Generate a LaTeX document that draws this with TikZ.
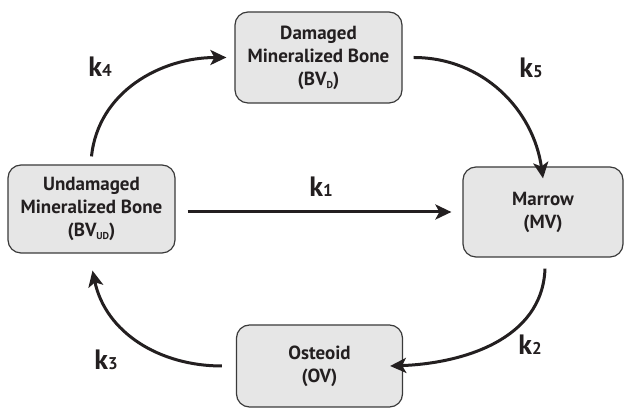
\documentclass[tikz,border=0pt]{standalone}
\usepackage{fontspec}
\setmainfont{PT Sans}
\usetikzlibrary{arrows.meta,calc}
\definecolor{boxfill}{HTML}{E6E6E6}
\definecolor{boxline}{HTML}{3A3A3A}
\definecolor{ink}{HTML}{231F20}
\newcommand{\sbx}[1]{\raisebox{-3pt}{\fontsize{10}{10}\selectfont #1}}
\newcommand{\klab}[1]{k{\fontsize{17}{17}\selectfont #1}}
\begin{document}
\begin{tikzpicture}[x=1pt,y=1pt,
  compbox/.style={draw=boxline, line width=1.2pt, fill=boxfill, rounded corners=13pt,
    align=center, inner sep=0pt, font=\fontsize{19}{24}\selectfont\bfseries, text=ink},
  arr/.style={draw=ink, line width=3pt, -{Stealth[length=16pt,width=15pt,inset=4pt]}},
  klabel/.style={font=\fontsize{28}{28}\selectfont\bfseries, text=ink, inner sep=0pt}]
\useasboundingbox (0,0) rectangle (624,411);
\node[compbox, minimum width=167pt, minimum height=91pt] (tb) at (318.5,353.5)
  {Damaged\\[-1pt]Mineralized Bone\\[-1pt](BV\sbx{D})};
\node[compbox, minimum width=167pt, minimum height=88pt] (lb) at (91.5,202)
  {Undamaged\\[-1pt]Mineralized Bone\\[-1pt](BV\sbx{UD})};
\node[compbox, minimum width=160pt, minimum height=90pt] (rb) at (543,199)
  {Marrow\\[-1pt](MV)};
\node[compbox, minimum width=166pt, minimum height=82pt] (bb) at (319.5,45)
  {Osteoid\\[-1pt](OV)};
% connectors
\draw[arr] ($(lb.east|-rb.west)+(12,0)$) -- ($(rb.west)+(-11,0)$);
\draw[arr] ($(lb.north)+(0,8)$) to[out=84,in=180] ($(tb.west)+(-8,0)$);
\draw[arr] ($(tb.east)+(11,0)$) to[out=0,in=98] ($(rb.north)+(0,-12)$);
\draw[arr] ($(rb.south)+(2,-11)$) to[out=-92,in=2] ($(bb.east)+(-13,0)$);
\draw[arr] ($(bb.west)+(-14,0)$) to[out=180,in=-78] ($(lb.south)+(1,-17)$);
% labels
\node[klabel] (k1) at (321,224) {\klab{1}};
\node[klabel] (k4) at (100,344) {\klab{4}};
\node[klabel] (k5) at (531,343) {\klab{5}};
\node[klabel] (k2) at (530,66) {\klab{2}};
\node[klabel] (k3) at (106,51) {\klab{3}};
\end{tikzpicture}
\end{document}
